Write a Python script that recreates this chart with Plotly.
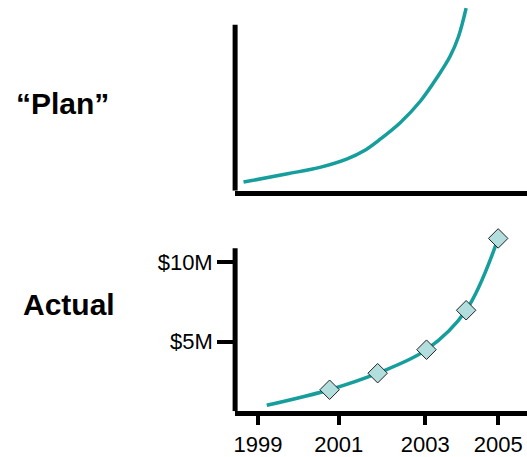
import plotly.graph_objects as go

# ---- data ----
plan_years = [1998.64, 1999.74, 2000.57, 2001.23, 2001.65, 2002.06, 2002.56, 2003.06, 2003.47, 2003.80, 2004.01, 2004.20]
plan_values = [1.17, 1.69, 2.11, 2.63, 3.14, 3.88, 4.92, 6.27, 7.73, 9.08, 10.33, 12.11]

actual_line_years = [1999.22, 2000.79, 2001.99, 2003.21, 2004.20, 2005.0]
actual_line_values = [1.0, 1.98, 3.02, 4.5, 6.98, 11.5]
actual_point_years = [2000.79, 2001.99, 2003.21, 2004.20, 2005.0]
actual_point_values = [1.98, 3.02, 4.5, 6.98, 11.5]

x_tick_positions = [1999, 2001.02, 2003.18, 2005]
x_tick_labels = ["1999", "2001", "2003", "2005"]
y_tick_values = [5, 10]
y_tick_labels = ["$5M", "$10M"]

TEAL = "#159e9b"
FILL = "#b3dede"
FONT = "Liberation Sans, Arial, sans-serif"
W, H = 527, 457


def py(px):
    return 1 - px / H


fig = go.Figure()

fig.add_trace(go.Scatter(x=plan_years, y=plan_values, mode="lines",
                         line=dict(color=TEAL, width=3.5, shape="spline"),
                         xaxis="x", yaxis="y", hoverinfo="skip"))
fig.add_trace(go.Scatter(x=actual_line_years, y=actual_line_values, mode="lines",
                         line=dict(color=TEAL, width=3.5, shape="spline"),
                         xaxis="x2", yaxis="y2", hoverinfo="skip"))
fig.add_trace(go.Scatter(x=actual_point_years, y=actual_point_values, mode="markers",
                         marker=dict(symbol="diamond", size=15, color=FILL,
                                     line=dict(color="#222222", width=1)),
                         cliponaxis=False, xaxis="x2", yaxis="y2", hoverinfo="skip"))

xrange = [1998.43, 2005.72]
xdom = [234 / W, 1]

fig.update_layout(
    width=W, height=H,
    margin=dict(l=0, r=0, t=0, b=0),
    paper_bgcolor="white", plot_bgcolor="white",
    showlegend=False,
    font=dict(family=FONT, color="black"),
    xaxis=dict(domain=xdom, range=xrange, anchor="y", showline=True, linewidth=5,
               linecolor="black", showgrid=False, zeroline=False, ticks="",
               showticklabels=False),
    yaxis=dict(domain=[py(192), py(5)], range=[0.625, 12.31], anchor="x",
               showline=False, showgrid=False, zeroline=False, ticks="",
               showticklabels=False),
    xaxis2=dict(domain=xdom, range=xrange, anchor="y2", showline=True, linewidth=5,
                linecolor="black", showgrid=False, zeroline=False,
                ticks="outside", ticklen=9, tickwidth=4, tickcolor="black",
                tickvals=x_tick_positions, ticktext=x_tick_labels,
                tickfont=dict(size=22, family=FONT, color="black")),
    xaxis3=dict(domain=xdom, range=xrange, anchor="y2", overlaying="x2",
                showline=False, showgrid=False, zeroline=False,
                ticks="inside", ticklen=8, tickwidth=4, tickcolor="black",
                tickvals=x_tick_positions, showticklabels=False),
    yaxis2=dict(domain=[py(414), py(230)], range=[0.625, 12.125], anchor="x2",
                showline=False, showgrid=False, zeroline=False,
                ticks="outside", ticklen=17, tickwidth=4, tickcolor="black",
                tickvals=y_tick_values, ticktext=y_tick_labels,
                tickfont=dict(size=22, family=FONT, color="black")),
    shapes=[
        dict(type="line", xref="x domain", yref="y", x0=0, x1=0, y0=0.625, y1=11.06,
             line=dict(color="black", width=5)),
        dict(type="line", xref="x2 domain", yref="y2", x0=0, x1=0, y0=0.625, y1=10.875,
             line=dict(color="black", width=5)),
    ],
    annotations=[
        dict(text="\u201cPlan\u201d", xref="paper", yref="paper", x=60.5 / W, y=py(104),
             xanchor="center", yanchor="middle", showarrow=False,
             font=dict(size=30, family=FONT, color="black", weight="bold")),
        dict(text="Actual", xref="paper", yref="paper", x=67.5 / W, y=py(307),
             xanchor="center", yanchor="middle", showarrow=False,
             font=dict(size=30, family=FONT, color="black", weight="bold")),
    ],
)

fig.write_html("out.html", config={"displayModeBar": False},
               post_script="document.body.style.margin='0';document.body.style.overflow='hidden';")
